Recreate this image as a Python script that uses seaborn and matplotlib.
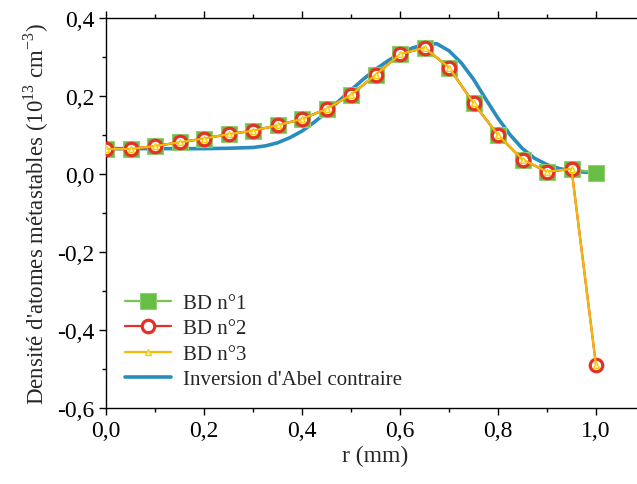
import matplotlib
matplotlib.use("Agg")
import matplotlib.pyplot as plt
import matplotlib.ticker as mticker
import seaborn as sns

# radial positions of the measured points (mm)
r_points = [0.00, 0.05, 0.10, 0.15, 0.20, 0.25, 0.30, 0.35, 0.40, 0.45, 0.50,
            0.55, 0.60, 0.65, 0.70, 0.75, 0.80, 0.85, 0.90, 0.95, 1.00]
bd1 = [0.064, 0.064, 0.072, 0.081, 0.091, 0.102, 0.111, 0.125, 0.141, 0.167, 0.203,
       0.254, 0.307, 0.324, 0.273, 0.182, 0.100, 0.037, 0.006, 0.013, 0.003]
bd2 = [0.064, 0.064, 0.072, 0.081, 0.091, 0.102, 0.111, 0.125, 0.141, 0.167, 0.203,
       0.254, 0.307, 0.324, 0.273, 0.182, 0.100, 0.037, 0.006, 0.013, -0.490]
bd3 = [0.064, 0.064, 0.072, 0.081, 0.091, 0.102, 0.111, 0.125, 0.141, 0.167, 0.203,
       0.254, 0.307, 0.324, 0.273, 0.182, 0.100, 0.037, 0.006, 0.013, -0.490]

# inverse Abel curve
r_abel = [0.00, 0.05, 0.10, 0.15, 0.20, 0.25, 0.30, 0.325, 0.35, 0.375, 0.40,
          0.425, 0.45, 0.475, 0.50, 0.525, 0.55, 0.575, 0.60, 0.625, 0.65,
          0.675, 0.70, 0.725, 0.75, 0.775, 0.80, 0.825, 0.85, 0.875, 0.90,
          0.925, 0.95, 0.975, 1.00]
abel = [0.065, 0.065, 0.065, 0.065, 0.065, 0.066, 0.068, 0.072, 0.080, 0.093, 0.110,
        0.133, 0.158, 0.187, 0.215, 0.243, 0.268, 0.290, 0.309, 0.323, 0.332,
        0.334, 0.316, 0.285, 0.243, 0.192, 0.143, 0.100, 0.065, 0.040, 0.024,
        0.014, 0.008, 0.005, 0.003]

sns.set_style("ticks")
plt.rcParams["font.family"] = ["Liberation Serif", "DejaVu Serif"]
plt.rcParams["mathtext.fontset"] = "custom"
plt.rcParams["mathtext.rm"] = "Liberation Serif"

fig = plt.figure(figsize=(6.37, 4.85), dpi=100)
ax = fig.add_axes([106 / 637, 76 / 485, 539 / 637, 390 / 485])

sns.lineplot(x=r_abel, y=abel, ax=ax, color="#2a8cbd", linewidth=2.6,
             label="Inversion d'Abel contraire", zorder=1)
sns.lineplot(x=r_points, y=bd1, ax=ax, color="#78c452", linewidth=1.6,
             marker="s", markersize=11, markerfacecolor="#68bd45",
             markeredgecolor="#8fd070", markeredgewidth=0.8,
             label="BD n°1", zorder=2)
sns.lineplot(x=r_points, y=bd2, ax=ax, color="#e53027", linewidth=1.6,
             marker="o", markersize=9, markerfacecolor="white",
             markeredgecolor="#e53027", markeredgewidth=2.3,
             label="BD n°2", zorder=3)
sns.lineplot(x=r_points, y=bd3, ax=ax, color="#f3b90a", linewidth=1.6,
             marker="^", markersize=5, markerfacecolor="#fff6c0",
             markeredgecolor="#f5cc10", markeredgewidth=1.0,
             label="BD n°3", zorder=4)

ax.set_xlim(0, 1.1)
ax.set_ylim(-0.6, 0.4)
ax.xaxis.set_major_locator(mticker.MultipleLocator(0.2))
ax.xaxis.set_minor_locator(mticker.MultipleLocator(0.1))
ax.yaxis.set_major_locator(mticker.MultipleLocator(0.2))
ax.yaxis.set_minor_locator(mticker.MultipleLocator(0.1))
comma = mticker.FuncFormatter(lambda v, _: f"{v:.1f}".replace(".", ","))
ax.xaxis.set_major_formatter(comma)
ax.yaxis.set_major_formatter(comma)

ax.tick_params(which="both", direction="out", top=True, width=1.0,
               labelsize=17, colors="black")
ax.tick_params(which="major", length=5)
ax.tick_params(which="minor", length=3)
ax.spines["right"].set_visible(False)
for s in ("left", "bottom", "top"):
    ax.spines[s].set_linewidth(1.0)
    ax.spines[s].set_color("black")

ax.set_xlabel("r (mm)", fontsize=17, labelpad=3)
ax.set_ylabel(r"Densité d'atomes métastables (10$^{\mathrm{13}}$ cm$^{\mathrm{-3}}$)",
              fontsize=16.5, labelpad=4)

handles, labels = ax.get_legend_handles_labels()
order = [1, 2, 3, 0]
ax.legend([handles[i] for i in order], [labels[i] for i in order],
          loc="lower left", bbox_to_anchor=(0.0, 0.0), frameon=False,
          fontsize=15, handlelength=2.2, labelspacing=0.28, handletextpad=0.6)

fig.savefig("out.png", dpi=100)
plt.close(fig)
